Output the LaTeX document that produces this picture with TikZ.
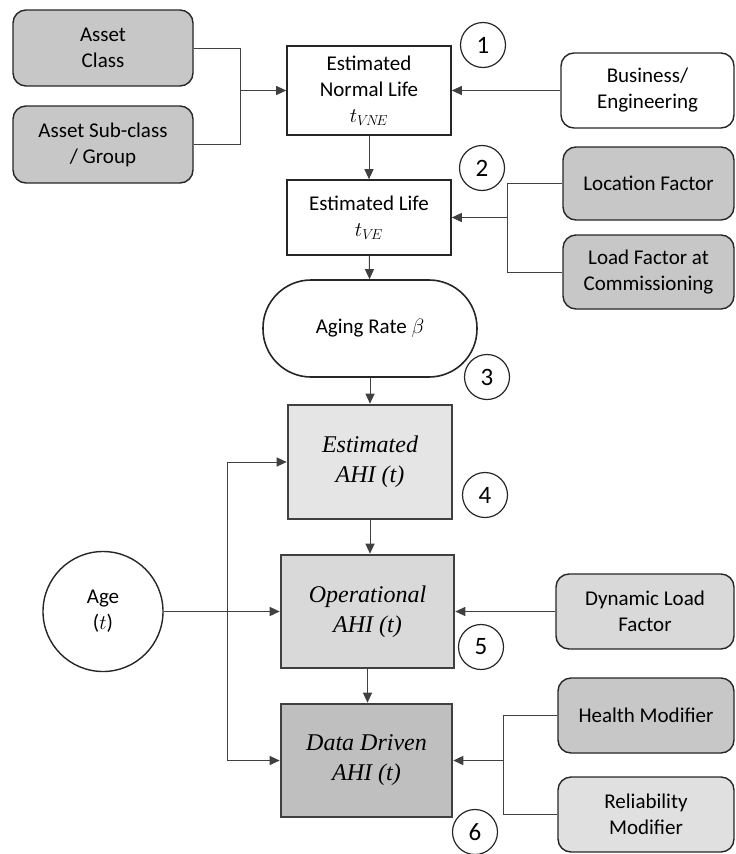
\documentclass[tikz,border=0pt]{standalone}
\usepackage{fontspec}
\setmainfont{Carlito}
\newfontfamily\ahifont{Liberation Serif}
\usetikzlibrary{arrows.meta}

\begin{document}
\begin{tikzpicture}[x=1pt,y=-1pt,
    txt/.style={font=\fontsize{21}{26}\selectfont,align=center,inner sep=0pt},
    inbox/.style={txt,draw=black!85,line width=1.4pt,rounded corners=13pt},
    calcbox/.style={txt,draw=black!85,line width=1.6pt,fill=white},
    ahibox/.style={draw=black!75,line width=2.6pt,align=center,inner sep=0pt,
                   font=\fontsize{24}{30}\selectfont\ahifont\itshape},
    numcirc/.style={circle,draw=black!85,line width=1.2pt,minimum size=45pt,inner sep=0pt,
                    font=\fontsize{25}{25}\selectfont},
    link/.style={draw=black!75,line width=1pt},
    arr/.style={link,-{Triangle[length=10pt,width=9pt]}}]
\useasboundingbox (0,0) rectangle (736,854);

% inputs on the left and right
\begin{scope}[every node/.style={inbox}]
    \node[fill=black!22,minimum width=180pt,minimum height=76pt] (cls) at (103,48) {Asset\\Class};
    \node[fill=black!22,minimum width=180pt,minimum height=77pt] (sub) at (103,144.5) {Asset Sub-class\\/ Group};
    \node[fill=white,minimum width=173pt,minimum height=75pt] (biz) at (647.5,90.5) {Business/\\Engineering};
    \node[fill=black!22,minimum width=171pt,minimum height=73pt] (loc) at (648.5,183.5) {Location Factor};
    \node[fill=black!22,minimum width=171pt,minimum height=74pt] (lfc) at (648.5,272) {Load Factor at\\Commissioning};
    \node[fill=black!15,minimum width=178pt,minimum height=75pt] (dyn) at (645,611.5) {Dynamic Load\\Factor};
    \node[fill=black!22,minimum width=176pt,minimum height=75pt] (hm) at (646,715.5) {Health Modifier};
    \node[fill=black!12,minimum width=176pt,minimum height=75pt] (rm) at (646,814.5) {Reliability\\Modifier};
\end{scope}

% main chain
\node[calcbox,minimum width=164pt,minimum height=89pt] (enl) at (369,90.5) {Estimated\\Normal Life\\$t_{V\!N\!E}$};
\node[calcbox,minimum width=164pt,minimum height=75pt] (el) at (369,217.5) {Estimated Life\\$t_{V\!E}$};
\node[calcbox,rounded corners=48pt,minimum width=214pt,minimum height=97pt] (rate) at (370,328.5) {Aging Rate $\beta$};
\node[ahibox,fill=black!10,minimum width=164pt,minimum height=114pt] (eahi) at (370,462) {Estimated\\AHI (t)};
\node[ahibox,fill=black!15,minimum width=173pt,minimum height=113pt] (oahi) at (367.5,611.5) {Operational\\AHI (t)};
\node[ahibox,fill=black!25,minimum width=171pt,minimum height=113pt] (dahi) at (366.5,760.5) {Data Driven\\AHI (t)};
\node[txt,circle,draw=black!85,line width=1.4pt,minimum size=120pt] (age) at (103,611.5) {Age\\($t$)};

% step numbers
\begin{scope}[every node/.style={numcirc}]
    \node (n1) at (483,45) {1};
    \node (n2) at (482,168) {2};
    \node (n3) at (487,377) {3};
    \node (n4) at (485,495) {4};
    \node (n5) at (481,647) {5};
    \node (n6) at (475,832) {6};
\end{scope}

\coordinate (j1) at (240,90.5);
\coordinate (j2) at (507,217.5);
\coordinate (j3) at (503,760.5);
\coordinate (ta) at (227,462);
\coordinate (tb) at (227,760.5);

\draw[link] (cls) -| (j1);
\draw[link] (sub) -| (j1);
\draw[arr] (j1) -- (enl);
\draw[arr] (biz) -- (enl);
\draw[arr] (enl) -- (el);
\draw[link] (loc) -| (j2);
\draw[link] (lfc) -| (j2);
\draw[arr,line width=1.4pt] (j2) -- (el);
\draw[arr] (el) -- (rate);
\draw[arr] (rate) -- (eahi);
\draw[arr] (eahi.south) -- (eahi.south |- oahi.north);
\draw[arr] (oahi.south) -- (oahi.south |- dahi.north);
\draw[arr] (dyn) -- (oahi);
\draw[link] (hm) -| (j3);
\draw[link] (rm) -| (j3);
\draw[arr,line width=1.6pt] (j3) -- (dahi);
\draw[arr,line width=1.4pt] (age) -- (oahi);
\draw[link] (ta) -- (tb);
\draw[arr] (ta) -- (eahi);
\draw[arr] (tb) -- (dahi);
\end{tikzpicture}
\end{document}
